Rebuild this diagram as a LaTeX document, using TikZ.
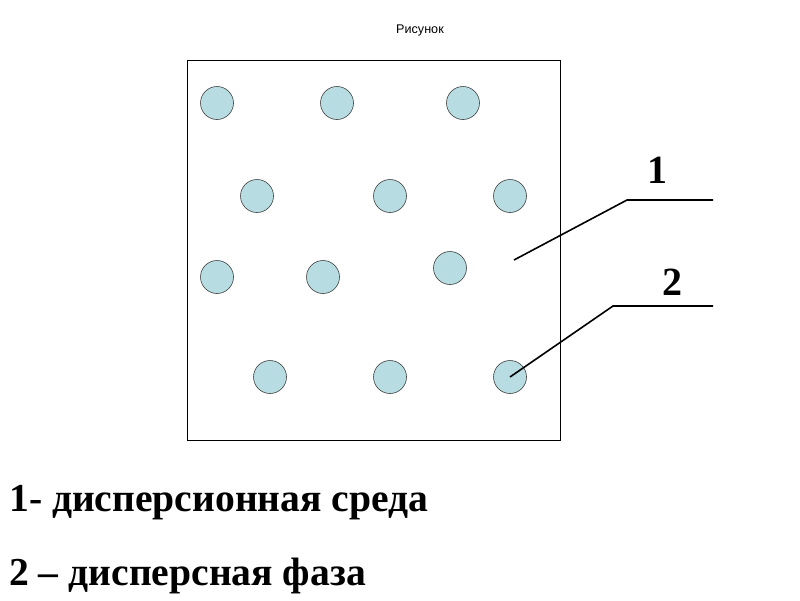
\documentclass[tikz,border=0pt]{standalone}
\usepackage{fontspec}
\setmainfont{Liberation Serif}
\newfontfamily\titlefont{Liberation Sans}
\usetikzlibrary{positioning}
\definecolor{particle}{RGB}{183,221,226}

\begin{document}
\begin{tikzpicture}[x=1pt, y=-1pt,
    medium/.style={draw=black, line width=0.8pt},
    drop/.style={circle, draw=black!75, fill=particle, line width=0.6pt, minimum size=33pt, inner sep=0pt},
    leader/.style={line width=1.6pt},
    num/.style={font=\fontsize{40}{40}\selectfont\bfseries, inner sep=0pt},
    legend/.style={font=\fontsize{39.6}{40}\selectfont\bfseries, anchor=west, inner sep=0pt}
  ]
    \useasboundingbox (0,0) rectangle (800,600);
    \node[font=\titlefont\fontsize{12.6}{13}\selectfont] (title) at (420,30) {Рисунок};
    \draw[medium] (187,60) rectangle (560,440);
    % particles of the dispersed phase
    \foreach \name/\px/\py in {p1/217/103, p2/337/103, p3/463/103,
        p4/257/196, p5/390/196, p6/510/196,
        p7/217/277, p8/323/277, p9/450/268,
        p10/270/377, p11/390/377, p12/510/377}
      \node[drop] (\name) at (\px,\py) {};
    % leaders
    \coordinate (m1) at (514,260);
    \node[num] (n1) at (657,170) {1};
    \node[num] (n2) at (672,282) {2};
    \coordinate (e1) at (713,200);
    \coordinate (e2) at (713,306);
    \draw[leader] (m1) -- (627,200) -- (e1);
    \draw[leader] (p12.center) -- (613,306) -- (e2);
    \node[legend] (l1) at (9,503) {1- дисперсионная среда};
    \node[legend] (l2) at (9,576) {2 – дисперсная фаза};
  \end{tikzpicture}
\end{document}
